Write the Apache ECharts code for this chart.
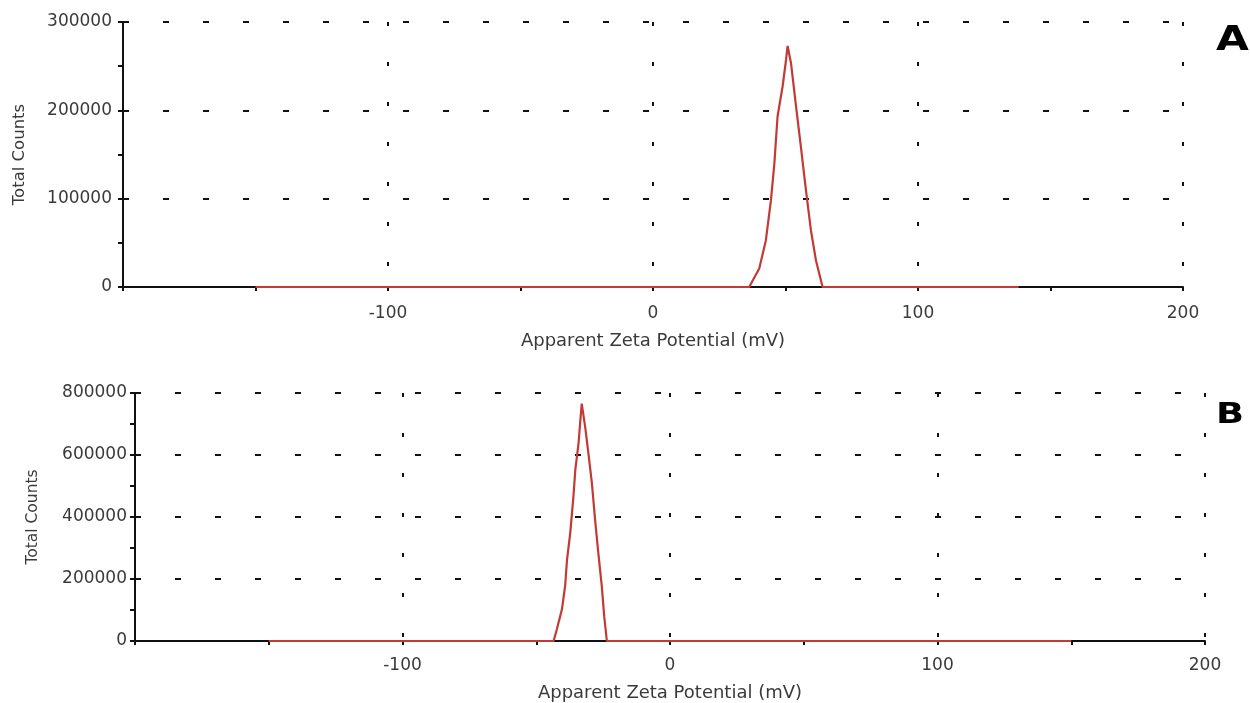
<!DOCTYPE html>
<html>
<head>
<meta charset="utf-8">
<script src="https://cdn.jsdelivr.net/npm/echarts@6/dist/echarts.min.js"></script>
<style>
html,body{margin:0;padding:0;background:#fff;}
#chart{width:1250px;height:703px;}
</style>
</head>
<body>
<div id="chart"></div>
<script>
// Panel A data
const potentialA = [-150, 36.3, 40.1, 42.6, 44.5, 45.8, 47.0, 48.9, 50.2, 50.8, 52.1, 54.0, 55.8, 57.7, 59.6, 61.5, 64.0, 138];
const countsA = [0, 0, 21000, 53000, 98000, 140000, 193000, 227000, 257000, 273000, 253000, 204000, 159000, 110000, 64000, 30000, 0, 0];
// Panel B data
const potentialB = [-150, -43.5, -42.3, -40.4, -39.2, -38.5, -37.3, -36.1, -35.4, -34.2, -33.6, -33.0, -31.7, -30.5, -29.2, -28.0, -26.8, -25.5, -24.6, -23.6, 150];
const countsB = [0, 0, 38000, 102000, 178000, 262000, 348000, 466000, 552000, 637000, 702000, 766000, 690000, 605000, 509000, 391000, 284000, 177000, 80000, 0, 0];

const xTitle = 'Apparent Zeta Potential (mV)';
const yTitle = 'Total Counts';
const panelLabels = ['A', 'B'];

const zip = (xs, ys) => xs.map((x, i) => [x, ys[i]]);
const font = 'DejaVu Sans, Liberation Sans, sans-serif';
const lineRed = '#c23a36';
const txt = '#3a3a3a';

function xAxisCfg(gridIndex, margin, nameGap) {
  return {
    type: 'value', gridIndex: gridIndex, min: -200, max: 200, interval: 100,
    name: xTitle, nameLocation: 'middle', nameGap: nameGap,
    nameTextStyle: {fontFamily: font, fontSize: 18, color: txt},
    axisLine: {show: true, onZero: false, lineStyle: {color: '#111', width: 2}},
    axisTick: {show: true, length: 4, lineStyle: {color: '#111', width: 2}},
    minorTick: {show: true, splitNumber: 2, length: 4, lineStyle: {color: '#111', width: 2}},
    axisLabel: {fontFamily: font, fontSize: 17, color: txt, margin: margin, showMinLabel: false,
                formatter: v => String(v)},
    splitLine: {show: true, lineStyle: {color: '#111', width: 2, type: [4, 36]}}
  };
}
function yAxisCfg(gridIndex, max, interval, margin, nameGap, nameSize) {
  return {
    type: 'value', gridIndex: gridIndex, min: 0, max: max, interval: interval,
    name: yTitle, nameLocation: 'middle', nameGap: nameGap, nameRotate: 90,
    nameTextStyle: {fontFamily: font, fontSize: nameSize, color: txt},
    axisLine: {show: true, onZero: false, lineStyle: {color: '#111', width: 2}},
    axisTick: {show: true, length: 5, lineStyle: {color: '#111', width: 2}},
    minorTick: {show: true, splitNumber: 2, length: 5, lineStyle: {color: '#111', width: 2}},
    axisLabel: {fontFamily: font, fontSize: 17, color: txt, margin: margin, formatter: v => String(v)},
    splitLine: {show: true, lineStyle: {color: '#111', width: 2, type: [6, 34], dashOffset: -40}}
  };
}

const chart = echarts.init(document.getElementById('chart'), null, {renderer: 'canvas'});
chart.setOption({
  animation: false,
  backgroundColor: '#fff',
  grid: [
    {left: 123, top: 22, width: 1060, height: 265},
    {left: 135, top: 393, width: 1070, height: 249}
  ],
  xAxis: [xAxisCfg(0, 18, 45), xAxisCfg(1, 16, 43)],
  yAxis: [yAxisCfg(0, 300000, 100000, 11, 95, 16.5), yAxisCfg(1, 800000, 200000, 8, 94, 15.5)],
  graphic: [
    {type: 'text', left: 1216, top: 24, scaleX: 1.25,
     style: {text: panelLabels[0], font: 'bold 34px DejaVu Sans', fill: '#000'}},
    {type: 'text', left: 1216, top: 401, scaleX: 1.27,
     style: {text: panelLabels[1], font: 'bold 29px DejaVu Sans', fill: '#000'}}
  ],
  series: [
    {type: 'line', xAxisIndex: 0, yAxisIndex: 0, data: zip(potentialA, countsA), showSymbol: false,
     lineStyle: {color: lineRed, width: 2.2}, z: 5},
    {type: 'line', xAxisIndex: 1, yAxisIndex: 1, data: zip(potentialB, countsB), showSymbol: false,
     lineStyle: {color: lineRed, width: 2.2}, z: 5}
  ]
});
</script>
</body>
</html>
